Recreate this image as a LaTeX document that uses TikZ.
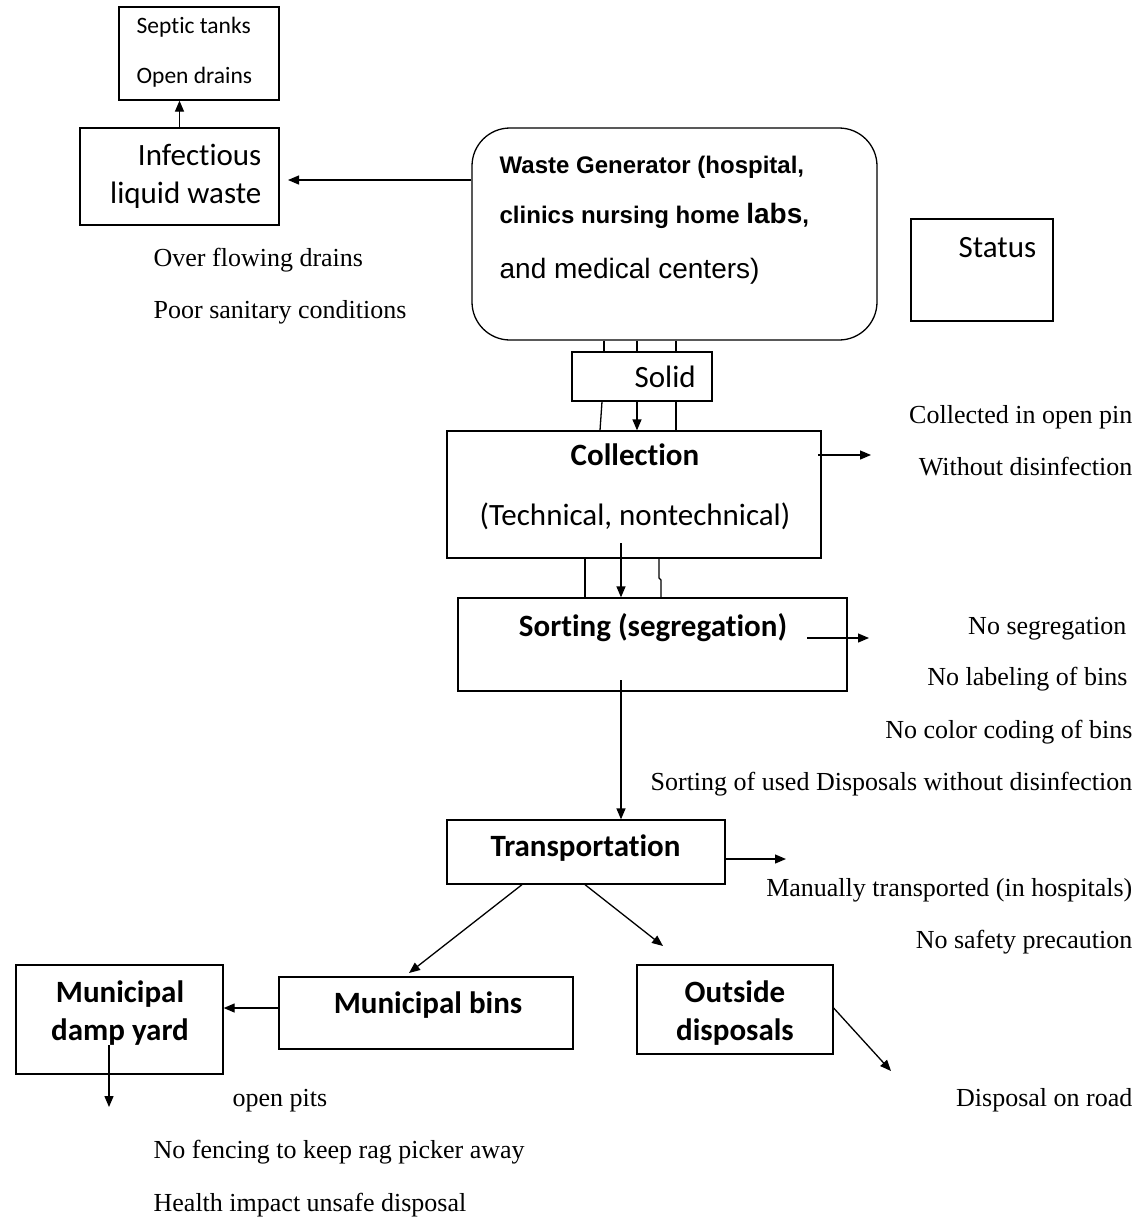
\documentclass[tikz,border=0pt]{standalone}
\usepackage{fontspec}
\setmainfont{Liberation Serif}
\newfontfamily\carl[RawFeature={-liga;-clig;-calt;-dlig}]{Carlito}
\newfontfamily\arl{Liberation Sans}
\usetikzlibrary{arrows.meta,calc}
\begin{document}
\begin{tikzpicture}[x=1pt,y=-1pt,
  line width=1.3pt,
  box/.style={draw,inner sep=0pt,minimum width=#1},
  arr/.style={-{Triangle[length=11pt,width=9pt]}},
  tnote/.style={font=\fontsize{26}{26}\selectfont,inner sep=0pt},
  cbox/.style={font=\carl\fontsize{31}{31}\selectfont,inner sep=0pt},
  cboxb/.style={font=\carl\bfseries\fontsize{31}{31}\selectfont,inner sep=0pt},
  csmall/.style={font=\carl\fontsize{23.5}{23.5}\selectfont,inner sep=0pt}]
\useasboundingbox[fill=white] (0,0) rectangle (1140,1219);
% boxes
\node[box=160pt,minimum height=93pt] (sep) at (199,53.5) {};
\node[box=199pt,minimum height=97pt] (inf) at (179.5,176.5) {};
\node[box=405pt,minimum height=212pt,rounded corners=38pt] (gen) at (674.5,234) {};
\node[box=142pt,minimum height=102pt] (status) at (982,270) {};
\node[box=140pt,minimum height=49pt] (solid) at (642,376.5) {};
\node[box=374pt,minimum height=127pt] (coll) at (634,494.5) {};
\node[box=389pt,minimum height=93pt] (sort) at (652.5,644.5) {};
\node[box=278pt,minimum height=64pt] (trans) at (586,852) {};
\node[box=294pt,minimum height=72pt] (mbins) at (426,1013) {};
\node[box=207pt,minimum height=109pt] (myard) at (119.5,1019.5) {};
\node[box=196pt,minimum height=89pt] (outs) at (735,1009.5) {};
% box texts
\node[csmall,anchor=base west] (sepA) at (136,33.5) {Septic tanks};
\node[csmall,anchor=base west] (sepB) at (136,83.5) {Open drains};
\node[cbox,anchor=base east] (infA) at (262,165) {Infectious};
\node[cbox,anchor=base east] (infB) at (262,203) {liquid waste};
\node[anchor=base west,inner sep=0pt,font=\arl\bfseries\fontsize{24}{24}\selectfont] (genA) at (499,173.5) {Waste Generator (hospital,};
\node[anchor=base west,inner sep=0pt,font=\arl\bfseries\fontsize{24}{24}\selectfont] (genB) at (499,223.5) {clinics nursing home {\fontsize{28}{28}\selectfont labs},};
\node[anchor=base west,inner sep=0pt,font=\arl\fontsize{28}{28}\selectfont] (genC) at (499,278) {and medical centers)};
\node[cbox,anchor=base west] (statusT) at (958,257) {Status};
\node[cbox,anchor=base west] (solidT) at (634,387) {Solid};
\node[cboxb,anchor=base] (collA) at (635,465) {Collection};
\node[cbox,anchor=base] (collB) at (635,525) {(Technical, nontechnical)};
\node[cboxb,anchor=base] (sortT) at (653,636) {Sorting (segregation)};
\node[cboxb,anchor=base] (transT) at (585.5,856) {Transportation};
\node[cboxb,anchor=base] (mbinsT) at (428,1013) {Municipal bins};
\node[cboxb,anchor=base] (myardA) at (120,1002) {Municipal};
\node[cboxb,anchor=base] (myardB) at (120,1040) {damp yard};
\node[cboxb,anchor=base] (outsA) at (735,1002) {Outside};
\node[cboxb,anchor=base] (outsB) at (735,1040) {disposals};
% notes
\node[tnote,anchor=base west] (n1) at (153,266) {Over flowing drains};
\node[tnote,anchor=base west] (n2) at (153,318) {Poor sanitary conditions};
\node[tnote,anchor=base east] (n3) at (1133,423) {Collected in open pin};
\node[tnote,anchor=base east] (n4) at (1133,475) {Without disinfection};
\node[tnote,anchor=base east] (n5) at (1127,634) {No segregation};
\node[tnote,anchor=base east] (n6) at (1128,685) {No labeling of bins};
\node[tnote,anchor=base east] (n7) at (1133,738) {No color coding of bins};
\node[tnote,anchor=base east] (n8) at (1133,790) {Sorting of used Disposals without disinfection};
\node[tnote,anchor=base east] (n9) at (1133,896) {Manually transported (in hospitals)};
\node[tnote,anchor=base east] (n10) at (1133,948) {No safety precaution};
\node[tnote,anchor=base west] (n11) at (232,1106) {open pits};
\node[tnote,anchor=base east] (n12) at (1133,1106) {Disposal on road};
\node[tnote,anchor=base west] (n13) at (153,1158) {No fencing to keep rag picker away};
\node[tnote,anchor=base west] (n14) at (153,1211) {Health impact unsafe disposal};
% free ends
\coordinate (liqEnd) at (288,180);
\coordinate (collS) at (818,455);
\coordinate (collE) at (871,455);
\coordinate (c2sS) at (621,543);
\coordinate (sortS) at (807,638);
\coordinate (sortE) at (869,638);
\coordinate (s2tS) at (621,680);
\coordinate (transE) at (786,859);
\coordinate (t2mE) at (409,973);
\coordinate (t2oE) at (663,946);
\coordinate (yardS) at (109,1045);
\coordinate (yardE) at (109,1107);
\coordinate (outsE) at (891,1071);
% connectors
\draw[arr] (inf.north) -- (inf.north |- sep.south);
\draw[arr] ([yshift=54pt]gen.west) -- (liqEnd);
\draw ([xshift=-38pt]solid.north |- gen.south) -- ([xshift=-38pt]solid.north);
\draw ([xshift=-5pt]solid.north |- gen.south) -- ([xshift=-5pt]solid.north);
\draw ([xshift=34pt]solid.north |- gen.south) -- ([xshift=34pt]solid.north);
\draw ([xshift=-40pt]solid.south) -- ([xshift=-42pt]solid.south |- coll.north);
\draw[arr] ([xshift=-5pt]solid.south) -- ([xshift=-5pt]solid.south |- coll.north);
\draw ([xshift=34pt]solid.south) -- ([xshift=34pt]solid.south |- coll.north);
\draw[arr] (collS) -- (collE);
\draw (coll.south -| 585,0) -- (sort.north -| 585,0);
\draw[arr] (c2sS) -- (c2sS |- sort.north);
\draw (coll.south -| 659,0) -- (659,578) -- (661,580) -- (sort.north -| 661,0);
\draw[arr] (sortS) -- (sortE);
\draw[arr] (s2tS) -- (s2tS |- trans.north);
\draw[arr] ([yshift=-7pt]trans.east) -- (transE);
\draw[arr] (trans.south -| 522,0) -- (t2mE);
\draw[arr] (trans.south -| 585,0) -- (t2oE);
\draw[arr] ([yshift=5pt]mbins.west) -- ([yshift=5pt]mbins.west -| myard.east);
\draw[arr] (yardS) -- (yardE);
\draw[arr] ([yshift=1.5pt]outs.east) -- (outsE);
\end{tikzpicture}
\end{document}
